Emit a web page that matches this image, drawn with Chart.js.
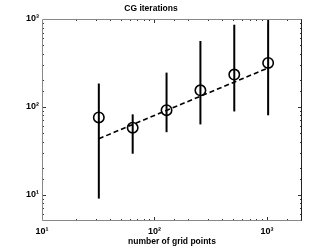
<!DOCTYPE html>
<html><head><meta charset="utf-8">
<script src="https://cdn.jsdelivr.net/npm/chart.js@4"></script>
<style>html,body{margin:0;padding:0;background:#fff}canvas{display:block}</style>
</head><body>
<canvas id="c" width="332" height="250"></canvas>
<script>
const gridPoints = [32, 64, 128, 256, 512, 1024];
const iterMean   = [75.6, 57.7, 91.5, 154, 233, 316];
const iterLow    = [9.0, 29.2, 51.4, 63, 88.5, 80];
const iterHigh   = [184, 82, 245, 562, 861, 980];
const fitX = [32, 1024];
const fitY = [43.3, 277];
const xTickLabels = {10: '10¹', 100: '10²', 1000: '10³'};
const yTickLabels = {10: '10¹', 100: '10²', 1000: '10³'};

const isPow10 = v => Math.abs(Math.log10(v) - Math.round(Math.log10(v))) < 1e-9;
const FAM = '"Liberation Sans", Arial, sans-serif';
const FONT = {family: FAM, size: 8.5, weight: 'bold'};
const TFONT = {family: FAM, size: 9, weight: 'bold'};

const datasets = [];
gridPoints.forEach((x, i) => {
  datasets.push({data: [{x: x, y: iterLow[i]}, {x: x, y: iterHigh[i]}], showLine: true,
    borderColor: '#000', borderWidth: 2, pointRadius: 0, borderCapStyle: 'butt'});
});
datasets.push({data: gridPoints.map((x, i) => ({x: x, y: iterMean[i]})), showLine: false,
  pointRadius: 5.2, pointBorderWidth: 1.6, pointBorderColor: '#000', pointBackgroundColor: 'rgba(0,0,0,0)'});
datasets.push({data: fitX.map((x, i) => ({x: x, y: fitY[i]})), showLine: true,
  borderColor: '#000', borderWidth: 1.6, borderDash: [5, 3], pointRadius: 0});

const framePlugin = {
  id: 'frame',
  afterDraw(chart) {
    const {ctx, chartArea: a, scales: {x, y}} = chart;
    ctx.save();
    ctx.lineWidth = 1;
    ctx.strokeStyle = '#333';
    const line = (x1, y1, x2, y2) => {ctx.beginPath(); ctx.moveTo(x1, y1); ctx.lineTo(x2, y2); ctx.stroke();};
    x.ticks.forEach(t => {
      const v = t.value;
      if (v <= x.min || v >= x.max) return;
      const px = Math.round(x.getPixelForValue(v)) + 0.5;
      const L = isPow10(v) ? 4 : 2;
      line(px, a.bottom, px, a.bottom - L);
      line(px, a.top, px, a.top + L);
    });
    y.ticks.forEach(t => {
      const v = t.value;
      if (v <= y.min || v >= y.max) return;
      const py = Math.round(y.getPixelForValue(v)) + 0.5;
      const L = isPow10(v) ? 4 : 2;
      line(a.left, py, a.left + L, py);
      line(a.right, py, a.right - L, py);
    });
    ctx.strokeStyle = '#888';
    const l = Math.round(a.left) + 0.5, r = Math.round(a.right) - 0.5, t = Math.round(a.top) + 0.5, b = Math.round(a.bottom) - 0.5;
    line(l, t, r, t);
    line(l, b, r, b);
    line(l, t, l, b);
    ctx.strokeStyle = '#222';
    line(r, t, r, b);
    ctx.restore();
  }
};

new Chart(document.getElementById('c'), {
  type: 'scatter',
  data: {datasets},
  options: {
    responsive: false, animation: false, devicePixelRatio: 1,
    layout: {padding: {left: 0, right: 30, top: 0, bottom: 0}},
    plugins: {
      legend: {display: false}, tooltip: {enabled: false},
      title: {display: true, text: 'CG iterations', color: '#000', font: FONT, padding: {top: 4, bottom: 4.8}}
    },
    scales: {
      x: {
        type: 'logarithmic', min: 10, max: 2048,
        grid: {display: false, drawTicks: false},
        border: {display: false},
        afterFit: s => { s.height = 29; },
        ticks: {autoSkip: false, maxRotation: 0, color: '#000', font: TFONT, padding: 5,
          callback: v => xTickLabels[v] || ''},
        title: {display: true, text: 'number of grid points', color: '#000', font: FONT, padding: {top: 0, bottom: 3}}
      },
      y: {
        type: 'logarithmic', min: 5, max: 1000,
        grid: {display: false, drawTicks: false},
        border: {display: false},
        afterFit: s => { s.width = 42; },
        ticks: {autoSkip: false, color: '#000', font: TFONT, padding: 3,
          callback: v => yTickLabels[v] || ''}
      }
    }
  },
  plugins: [framePlugin]
});
</script>
</body></html>
